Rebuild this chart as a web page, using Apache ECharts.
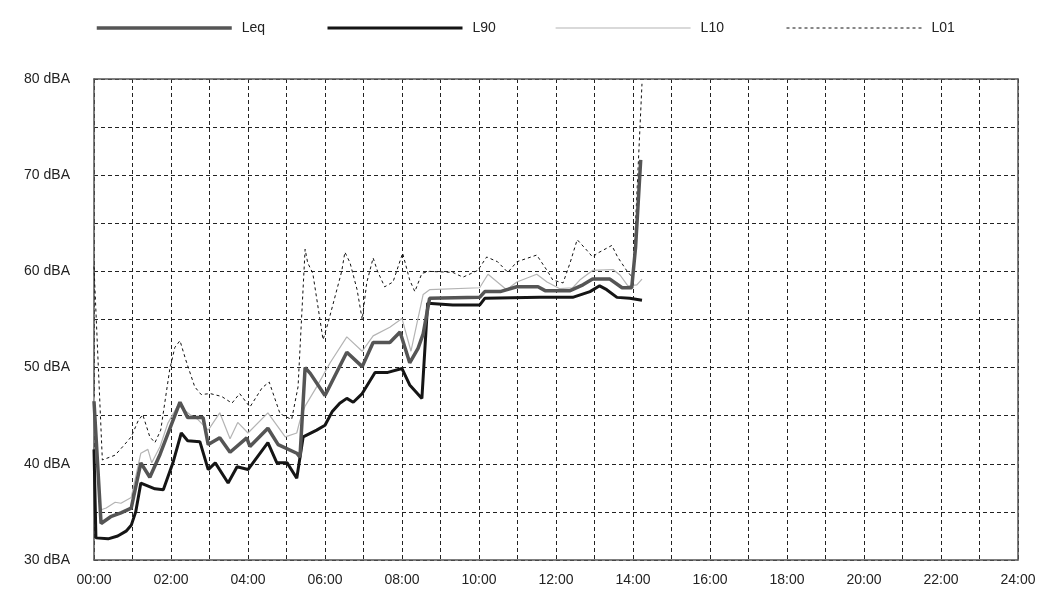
<!DOCTYPE html>
<html>
<head>
<meta charset="utf-8">
<title>Noise levels</title>
<script src="https://cdn.jsdelivr.net/npm/echarts@6/dist/echarts.min.js"></script>
<style>
  html, body { margin: 0; padding: 0; background: #fff; }
  #chart { width: 1049px; height: 608px; }
</style>
</head>
<body>
<div id="chart"></div>
<script>
// Measurement times are in minutes since midnight; levels are in dBA.
const leqMin = [0, 11, 26, 42, 58, 73, 87, 103, 134, 146,
  170, 178, 196, 212, 238, 243, 271, 287, 316, 321,
  329, 337, 360, 394, 418, 435, 461, 477, 492, 505,
  513, 523, 601, 609, 633, 659, 692, 703, 742, 762,
  777, 804, 823, 838, 844, 852];
const leqVal = [46.5, 33.8, 34.5, 34.9, 35.4, 40.1, 38.6, 41.0, 46.4, 44.8,
  44.8, 42.0, 42.7, 41.2, 42.7, 41.8, 43.7, 42.0, 41.1, 40.7,
  50.0, 49.4, 47.1, 51.6, 50.1, 52.6, 52.6, 53.7, 50.5, 52.0,
  53.5, 57.2, 57.3, 57.9, 57.9, 58.4, 58.4, 58.0, 58.0, 58.6,
  59.2, 59.2, 58.3, 58.3, 62.5, 71.6];

const l90Min = [0, 3, 22, 37, 50, 58, 65, 73, 95, 108,
  123, 136, 146, 165, 178, 189, 209, 223, 240, 271,
  285, 301, 316, 326, 347, 360, 371, 383, 394, 404,
  418, 438, 458, 480, 492, 511, 520, 559, 601, 609,
  695, 746, 773, 788, 799, 815, 835, 854];
const l90Val = [41.5, 32.3, 32.2, 32.5, 33.0, 33.6, 35.0, 38.0, 37.4, 37.3,
  40.1, 43.2, 42.4, 42.3, 39.4, 40.1, 38.0, 39.7, 39.4, 42.2,
  40.1, 40.1, 38.5, 42.8, 43.5, 44.0, 45.4, 46.3, 46.8, 46.4,
  47.3, 49.5, 49.5, 49.9, 48.2, 46.8, 56.7, 56.5, 56.5, 57.2,
  57.3, 57.3, 57.9, 58.5, 58.1, 57.3, 57.2, 57.0];

const l10Min = [0, 10, 19, 33, 42, 58, 73, 84, 90, 103,
  115, 131, 150, 162, 178, 196, 212, 224, 240, 271,
  298, 316, 321, 329, 347, 368, 394, 418, 435, 461,
  480, 494, 513, 523, 601, 614, 643, 659, 690, 706,
  726, 746, 757, 777, 809, 820, 832, 846, 854];
const l10Val = [47.0, 35.2, 35.4, 36.0, 35.9, 36.5, 41.1, 41.5, 40.1, 41.8,
  44.2, 46.1, 45.1, 44.6, 43.5, 45.3, 42.6, 44.3, 43.2, 45.3,
  42.8, 43.2, 44.5, 46.0, 48.0, 50.5, 53.2, 51.7, 53.3, 54.2,
  55.1, 51.7, 57.6, 58.1, 58.3, 59.7, 58.1, 58.9, 59.7, 58.9,
  58.2, 58.3, 59.1, 60.1, 60.2, 59.6, 58.5, 58.6, 59.2];

const l01Min = [0, 13, 33, 45, 58, 69, 76, 87, 95, 104,
  118, 126, 134, 143, 157, 167, 181, 199, 215, 227,
  243, 262, 273, 290, 308, 318, 329, 333, 341, 357,
  365, 386, 391, 399, 410, 418, 425, 435, 442, 453,
  466, 481, 492, 500, 511, 523, 559, 575, 598, 612,
  629, 645, 659, 690, 706, 715, 731, 742, 753, 768,
  777, 785, 807, 816, 830, 840, 854];
const l01Val = [60.5, 40.4, 40.9, 41.8, 42.8, 44.5, 45.1, 42.8, 42.2, 43.5,
  49.8, 52.1, 52.8, 50.8, 48.0, 47.2, 47.3, 47.0, 46.3, 47.3,
  45.9, 47.9, 48.5, 45.2, 44.6, 48.0, 62.3, 60.9, 59.8, 52.9,
  54.7, 60.0, 62.0, 60.9, 58.1, 55.0, 58.8, 61.4, 60.0, 58.4,
  58.9, 61.9, 59.1, 57.9, 59.8, 60.0, 59.9, 59.4, 60.1, 61.5,
  61.0, 59.9, 61.0, 61.7, 60.1, 59.1, 58.8, 60.9, 63.3, 62.2,
  61.5, 61.9, 62.7, 61.5, 60.1, 59.3, 79.5];

const pairs = (t, v) => t.map((m, i) => [m, v[i]]);
const hhmm = m => String(Math.floor(m / 60)).padStart(2, '0') + ':00';

const FONT = 'Liberation Sans, Arial, sans-serif';
const textStyle = { fontFamily: FONT, fontSize: 14, color: '#222' };
const gridDash = { color: '#222', width: 1, type: [4, 3] };
const frame = { show: true, onZero: false, lineStyle: { color: '#555', width: 1.5 } };

// Line styles shared by each series and its legend entry
const styles = {
  Leq: { color: '#555555', width: 3.5 },
  L90: { color: '#151515', width: 3 },
  L10: { color: '#b4b4b4', width: 1.2 },
  L01: { color: '#111111', width: 1, type: [3, 3] }
};

const lineSeries = (name, data, z) => ({
  name, type: 'line', data, symbol: 'none', showSymbol: false,
  smooth: false, animation: false, lineStyle: styles[name],
  itemStyle: { color: styles[name].color }, z
});

const legendAt = (name, left) => ({
  data: [name], left, top: 21, padding: 0,
  itemWidth: 135, itemHeight: 14, itemGap: 0,
  textStyle: { ...textStyle, padding: [0, 0, 0, 5] },
  selectedMode: false,
  itemStyle: { opacity: 0 },
  lineStyle: { ...styles[name], opacity: 1 }
});

const chart = echarts.init(document.getElementById('chart'), null, { renderer: 'canvas' });
chart.setOption({
  animation: false,
  backgroundColor: '#fff',
  textStyle,
  legend: [
    legendAt('Leq', 95),
    legendAt('L90', 326),
    legendAt('L10', 555),
    legendAt('L01', 786)
  ],
  grid: { left: 94, right: 31, top: 79, bottom: 48, containLabel: false },
  xAxis: [{
    type: 'value', min: 0, max: 1440, interval: 60,
    axisLine: frame, axisTick: { show: false },
    axisLabel: {
      ...textStyle, margin: 13, showMinLabel: true, showMaxLabel: true,
      formatter: v => (v % 120 === 0 ? hhmm(v) : '')
    },
    splitLine: { show: true, lineStyle: gridDash }
  }, {
    type: 'value', position: 'top', min: 0, max: 1440, interval: 60,
    axisLine: frame, axisTick: { show: false }, axisLabel: { show: false },
    splitLine: { show: false }
  }],
  yAxis: [{
    type: 'value', min: 30, max: 80, interval: 5,
    axisLine: frame, axisTick: { show: false },
    axisLabel: {
      ...textStyle, margin: 24,
      formatter: v => (v % 10 === 0 ? v + ' dBA' : '')
    },
    splitLine: { show: true, lineStyle: gridDash }
  }, {
    type: 'value', position: 'right', min: 30, max: 80, interval: 5,
    axisLine: frame, axisTick: { show: false }, axisLabel: { show: false },
    splitLine: { show: false }
  }],
  series: [
    lineSeries('L01', pairs(l01Min, l01Val), 2),
    lineSeries('L10', pairs(l10Min, l10Val), 3),
    lineSeries('L90', pairs(l90Min, l90Val), 4),
    lineSeries('Leq', pairs(leqMin, leqVal), 5)
  ]
});
</script>
</body>
</html>
